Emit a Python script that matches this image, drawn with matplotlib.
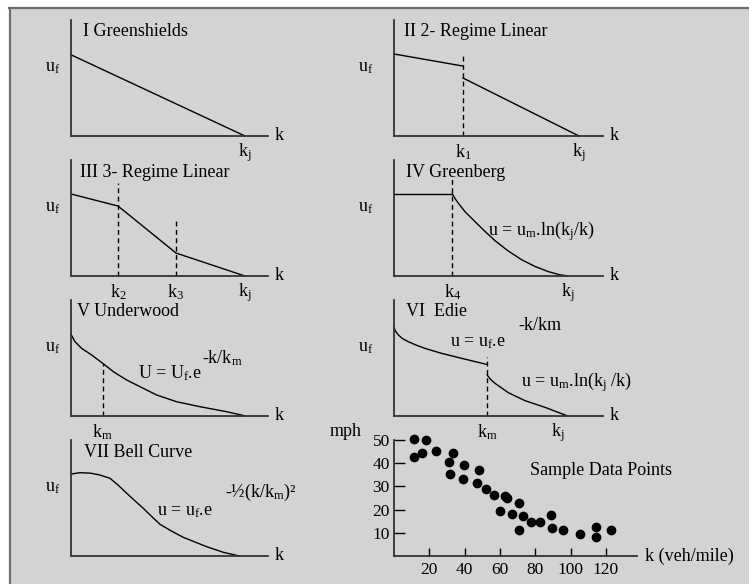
# coding: utf-8
import matplotlib
matplotlib.use('Agg')
import matplotlib.pyplot as plt
import matplotlib.patches as mpatch
import matplotlib.lines as mlines

plt.rcParams['font.family'] = ['Liberation Serif', 'DejaVu Serif']
plt.rcParams['mathtext.fontset'] = 'custom'
plt.rcParams['mathtext.rm'] = 'Liberation Serif'
plt.rcParams['mathtext.it'] = 'Liberation Serif:italic'

W, H = 749, 584
FS = 13
BG = '#d3d3d3'

# ---- data (k and u as fractions of each small panel) ----
green_k = [0, 0.883]
green_u = [0.70, 0]

two_k1, two_u1 = [0, 0.33], [0.707, 0.603]
two_k2, two_u2 = [0.33, 0.885], [0.50, 0]
two_break = 0.33

three_k = [0, 0.239, 0.533, 0.883]
three_u = [0.707, 0.603, 0.198, 0]
three_breaks = [0.239, 0.533]
three_break_tops = [0.80, 0.50]

gberg_flat_k, gberg_flat_u = [0, 0.279], [0.707, 0.707]
gberg_k = [0.279, 0.292, 0.308, 0.340, 0.388, 0.435, 0.483, 0.547, 0.611, 0.675,
           0.738, 0.790, 0.831]
gberg_u = [0.707, 0.668, 0.627, 0.554, 0.468, 0.385, 0.305, 0.215, 0.140, 0.082,
           0.038, 0.012, 0]
gberg_break = 0.279

under_k = [0, 0.020, 0.054, 0.105, 0.161, 0.215, 0.283, 0.350, 0.435, 0.536,
           0.655, 0.790, 0.887]
under_u = [0.704, 0.641, 0.583, 0.526, 0.454, 0.382, 0.310, 0.253, 0.181, 0.123,
           0.080, 0.037, 0]
under_break = 0.161

edie_k1 = [0, 0.006, 0.021, 0.040, 0.068, 0.105, 0.148, 0.228, 0.324, 0.443]
edie_u1 = [0.765, 0.735, 0.698, 0.668, 0.641, 0.612, 0.583, 0.540, 0.497, 0.445]
edie_k2 = [0.446, 0.462, 0.483, 0.547, 0.627, 0.722, 0.831]
edie_u2 = [0.353, 0.315, 0.282, 0.201, 0.132, 0.075, 0]
edie_break = 0.445

bell_k = [0, 0.046, 0.100, 0.147, 0.198, 0.240, 0.283, 0.325, 0.367, 0.410, 0.452,
          0.510, 0.570, 0.630, 0.689, 0.773, 0.854]
bell_u = [0.707, 0.718, 0.714, 0.698, 0.670, 0.610, 0.540, 0.475, 0.411, 0.340, 0.273,
          0.215, 0.161, 0.120, 0.080, 0.032, 0]

# sample data points: density (veh/mile), speed (mph)
sample_k = [11.6, 18.2, 11.6, 15.9, 23.8, 31.4, 33.4, 31.9, 39.6, 38.9, 47.9, 47.2,
            52.1, 56.4, 63.0, 64.0, 60.2, 67.1, 70.9, 72.8, 70.9, 77.3, 82.8, 89.0,
            89.4, 95.9, 105.4, 114.4, 114.4, 122.7]
sample_u = [50.4, 50.0, 42.6, 44.6, 45.4, 40.6, 44.6, 35.5, 39.1, 33.3, 37.2, 31.6,
            28.7, 26.1, 26.0, 25.1, 19.3, 18.3, 22.9, 17.1, 11.3, 14.5, 14.5, 17.8,
            12.0, 11.3, 9.6, 12.3, 8.1, 11.3]
sample_xticks = [20, 40, 60, 80, 100, 120]
sample_yticks = [10, 20, 30, 40, 50]

# ---- layout in pixels ----
COLS = [(71, 268), (394, 603)]
ROWS = [(20, 136), (160, 276), (300, 416), (440, 556)]


def add_ax(fig, left, top, right, bottom):
    ax = fig.add_axes([left / W, 1 - bottom / H, (right - left) / W, (bottom - top) / H])
    ax.set_facecolor('none')
    for s in ['top', 'right']:
        ax.spines[s].set_visible(False)
    for s in ['left', 'bottom']:
        ax.spines[s].set_color('#333333')
        ax.spines[s].set_linewidth(1.3)
    return ax


def panel(fig, col, row, title, title_xy):
    x0, x1 = COLS[col]
    y0, y1 = ROWS[row]
    ax = add_ax(fig, x0, y0, x1, y1)
    ax.set_xlim(0, 1)
    ax.set_ylim(0, 1)
    ax.set_xticks([])
    ax.set_yticks([])
    ax.text(title_xy[0], title_xy[1], title, transform=ax.transAxes,
            fontsize=FS, ha='left', va='center')
    ufx = -0.091 if col == 0 else -0.134
    ax.text(ufx, 0.59, 'u$_\\mathrm{f}$', transform=ax.transAxes,
            fontsize=FS, ha='center', va='center')
    ax.text(1.055, 0.0, 'k', transform=ax.transAxes, fontsize=FS,
            ha='center', va='center', clip_on=False)
    return ax


def klabel(ax, x, txt):
    ax.text(x, -0.14, txt, fontsize=FS, ha='center', va='center', clip_on=False)


def dashed(ax, x, top):
    ax.plot([x, x], [0, top], color='black', lw=1.0, ls=(0, (3.5, 2.5)), clip_on=False)


def curve(ax, k, u):
    ax.plot(k, u, color='black', lw=1.0, clip_on=False, solid_joinstyle='round')


fig = plt.figure(figsize=(W / 100, H / 100), dpi=100)
fig.patch.set_facecolor('white')
fig.add_artist(mpatch.Rectangle((9 / W, 0), (W - 9) / W, (H - 7) / H, zorder=-10,
                                transform=fig.transFigure, facecolor=BG, edgecolor='none'))
fig.add_artist(mlines.Line2D([9 / W, 1], [1 - 8 / H, 1 - 8 / H], transform=fig.transFigure,
                             color='#6e6e6e', lw=1.6, zorder=-9))
fig.add_artist(mlines.Line2D([10 / W, 10 / W], [0, 1 - 8 / H], transform=fig.transFigure,
                             color='#6e6e6e', lw=1.6, zorder=-9))

# I Greenshields
ax = panel(fig, 0, 0, 'I Greenshields', (0.061, 0.897))
curve(ax, green_k, green_u)
klabel(ax, green_k[1], 'k$_\\mathrm{j}$')

# II 2-Regime linear
ax = panel(fig, 1, 0, 'II 2- Regime Linear', (0.048, 0.897))
curve(ax, two_k1, two_u1)
curve(ax, two_k2, two_u2)
dashed(ax, two_break, 0.716)
klabel(ax, two_break, 'k$_\\mathrm{1}$')
klabel(ax, two_k2[-1], 'k$_\\mathrm{j}$')

# III 3-Regime linear
ax = panel(fig, 0, 1, 'III 3- Regime Linear', (0.046, 0.888))
curve(ax, three_k, three_u)
for b, t in zip(three_breaks, three_break_tops):
    dashed(ax, b, t)
klabel(ax, three_breaks[0], 'k$_\\mathrm{2}$')
klabel(ax, three_breaks[1], 'k$_\\mathrm{3}$')
klabel(ax, three_k[-1], 'k$_\\mathrm{j}$')

# IV Greenberg
ax = panel(fig, 1, 1, 'IV Greenberg', (0.057, 0.888))
curve(ax, gberg_flat_k, gberg_flat_u)
curve(ax, gberg_k, gberg_u)
dashed(ax, gberg_break, 0.845)
ax.text(0.45, 0.388, 'u = u$_\\mathrm{m}$.ln(k$_\\mathrm{j}$/k)', fontsize=FS,
        ha='left', va='center')
klabel(ax, gberg_break, 'k$_\\mathrm{4}$')
klabel(ax, gberg_k[-1], 'k$_\\mathrm{j}$')

# V Underwood
ax = panel(fig, 0, 2, 'V Underwood', (0.03, 0.897))
curve(ax, under_k, under_u)
dashed(ax, under_break, 0.448)
ax.text(0.34, 0.37, 'U = U$_\\mathrm{f}$.e', fontsize=FS, ha='left', va='center')
ax.text(0.665, 0.50, '-k/k$_\\mathrm{m}$', fontsize=FS, ha='left', va='center')
klabel(ax, under_break, 'k$_\\mathrm{m}$')

# VI Edie
ax = panel(fig, 1, 2, 'VI  Edie', (0.057, 0.897))
curve(ax, edie_k1, edie_u1)
curve(ax, edie_k2, edie_u2)
dashed(ax, edie_break, 0.511)
ax.text(0.593, 0.784, '-k/km', fontsize=FS, ha='left', va='center')
ax.text(0.268, 0.63, 'u = u$_\\mathrm{f}$.e', fontsize=FS, ha='left', va='center')
ax.text(0.608, 0.293, 'u = u$_\\mathrm{m}$.ln(k$_\\mathrm{j}$ /k)', fontsize=FS,
        ha='left', va='center')
klabel(ax, edie_break, 'k$_\\mathrm{m}$')
klabel(ax, 0.785, 'k$_\\mathrm{j}$')

# VII Bell curve
ax = panel(fig, 0, 3, 'VII Bell Curve', (0.066, 0.888))
curve(ax, bell_k, bell_u)
ax.text(0.437, 0.38, 'u = u$_\\mathrm{f}$.e', fontsize=FS, ha='left', va='center')
ax.text(0.78, 0.55, '-½(k/k$_\\mathrm{m}$)²', fontsize=FS, ha='left', va='center')

# Sample data points
ax = add_ax(fig, 394, 440, 637, 556)
ax.scatter(sample_k, sample_u, s=36, color='black', clip_on=False, zorder=3)
ax.set_xlim(0, 137.6)
ax.set_ylim(0, 50)
ax.set_xticks(sample_xticks)
ax.set_yticks(sample_yticks)
ax.tick_params(axis='x', direction='in', length=5.5, width=1.0, pad=4, labelsize=12.5)
ax.tick_params(axis='y', direction='in', length=8, width=1.0, pad=3, labelsize=12.5)
ax.text(-0.198, 1.07, 'mph', transform=ax.transAxes, fontsize=FS, ha='center', va='center')
ax.text(0.56, 0.74, 'Sample Data Points', transform=ax.transAxes, fontsize=FS,
        ha='left', va='center')
ax.text(1.033, 0.0, 'k (veh/mile)', transform=ax.transAxes, fontsize=FS,
        ha='left', va='center')

fig.savefig('out.png', dpi=100, facecolor=fig.get_facecolor())
